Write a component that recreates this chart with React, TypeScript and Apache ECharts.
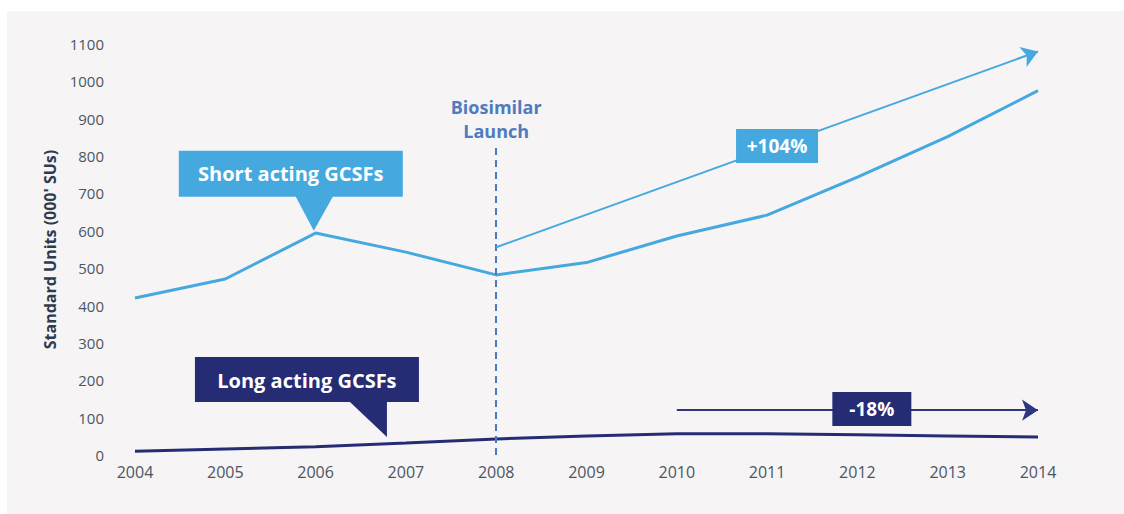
import React, { useEffect, useRef } from "react";
import * as echarts from "echarts";

const years = [2004, 2005, 2006, 2007, 2008, 2009, 2010, 2011, 2012, 2013, 2014];
const shortActing = [420, 471, 594, 543, 482, 515, 586, 642, 744, 852, 975];
const longActing = [10, 16, 22, 32, 43, 51, 57, 57, 54, 51, 48];

const launchYear = 2008;
const launchTop = 822;
const shortTrendStart = [2008, 556];
const shortTrendEnd = [2014, 1080];
const shortTrendLabel = "+104%";
const shortTrendLabelAt = [2011.11, 827];
const longTrendStart = [2010, 120];
const longTrendEnd = [2014, 120];
const longTrendLabel = "-18%";
const longTrendLabelAt = [2012.16, 123];
const shortCalloutTip = [2005.98, 600];
const longCalloutTip = [2006.79, 48];

const SHORT = "#45a9df";
const LONG = "#262c74";
const FONT = "'Open Sans', Lato, sans-serif";

export default function App() {
  const ref = useRef<HTMLDivElement>(null);
  useEffect(() => {
    if (!ref.current) return;
    const chart = echarts.init(ref.current, null, { renderer: "svg" });
    const sData = years.map((y, i) => [y, shortActing[i]]);
    const lData = years.map((y, i) => [y, longActing[i]]);
    const boxLabel = (text: string, size: number, offset?: number[]) => ({
      show: true,
      position: "inside",
      offset: offset || [0, 0],
      formatter: text,
      color: "#ffffff",
      fontSize: size,
      fontWeight: "bold",
      fontFamily: FONT,
    });
    chart.setOption({
      animation: false,
      textStyle: { fontFamily: FONT },
      graphic: [
        {
          type: "rect",
          z: -10,
          silent: true,
          shape: { x: 7, y: 11, width: 1117, height: 503 },
          style: { fill: "#f6f4f5" },
        },
      ],
      grid: { left: 135, right: 86, top: 44, bottom: 59 },
      xAxis: {
        type: "value",
        min: 2004,
        max: 2014,
        interval: 1,
        axisLine: { show: false },
        axisTick: { show: false },
        splitLine: { show: false },
        axisLabel: {
          margin: 9,
          color: "#4b5663",
          fontSize: 16,
          fontFamily: FONT,
          formatter: (v: number) => String(v),
        },
      },
      yAxis: {
        type: "value",
        min: 0,
        max: 1100,
        interval: 100,
        name: "Standard Units (000' SUs)",
        nameLocation: "middle",
        nameGap: 77,
        nameTextStyle: { color: "#2e3b4c", fontSize: 16, fontWeight: "bold", fontFamily: FONT },
        axisLine: { show: false },
        axisTick: { show: false },
        splitLine: { show: false },
        axisLabel: {
          margin: 31,
          color: "#4b5663",
          fontSize: 15,
          fontFamily: FONT,
          formatter: (v: number) => String(v),
        },
      },
      series: [
        {
          name: "Short acting GCSFs",
          type: "line",
          data: sData,
          symbol: "none",
          lineStyle: { color: SHORT, width: 3 },
          itemStyle: { color: SHORT },
          markLine: {
            silent: true,
            symbol: ["none", "none"],
            data: [
              [
                {
                  coord: [launchYear, 0],
                  symbol: "none",
                  lineStyle: { color: "#4a78bf", width: 2, type: [7, 5] },
                  label: {
                    show: true,
                    position: "end",
                    formatter: "Biosimilar\nLaunch",
                    color: "#4f7bbf",
                    fontSize: 18,
                    fontWeight: "bold",
                    lineHeight: 24,
                    distance: 5,
                    fontFamily: FONT,
                  },
                },
                { coord: [launchYear, launchTop], symbol: "none" },
              ],
              [
                { coord: shortTrendStart, symbol: "none", lineStyle: { color: SHORT, width: 2, type: "solid" }, label: { show: false } },
                { coord: shortTrendEnd, symbol: "arrow", symbolSize: 16 },
              ],
            ],
          },
          markPoint: {
            silent: true,
            data: [
              {
                coord: shortTrendLabelAt,
                symbol: "rect",
                symbolSize: [82, 34],
                itemStyle: { color: SHORT },
                label: boxLabel(shortTrendLabel, 19),
              },
              {
                coord: shortCalloutTip,
                symbol: "path://M0 0H224V46H154L135 80L117 46H0Z",
                symbolSize: [224, 80],
                symbolOffset: [-23, -40],
                itemStyle: { color: SHORT },
                label: boxLabel("Short acting GCSFs", 20, [0, -17]),
              },
            ],
          },
        },
        {
          name: "Long acting GCSFs",
          type: "line",
          data: lData,
          symbol: "none",
          lineStyle: { color: LONG, width: 3 },
          itemStyle: { color: LONG },
          markLine: {
            silent: true,
            symbol: ["none", "none"],
            label: { show: false },
            data: [
              [
                { coord: longTrendStart, symbol: "none", lineStyle: { color: "#2f3680", width: 2, type: "solid" } },
                { coord: longTrendEnd, symbol: "arrow", symbolSize: 16 },
              ],
            ],
          },
          markPoint: {
            silent: true,
            data: [
              {
                coord: longTrendLabelAt,
                symbol: "rect",
                symbolSize: [79, 34],
                itemStyle: { color: LONG },
                label: boxLabel(longTrendLabel, 19),
              },
              {
                coord: longCalloutTip,
                symbol: "path://M0 0H224V45H192V80L155 45H0Z",
                symbolSize: [224, 80],
                symbolOffset: [-80, -40],
                itemStyle: { color: LONG },
                label: boxLabel("Long acting GCSFs", 20, [0, -17]),
              },
            ],
          },
        },
      ],
    });
    return () => chart.dispose();
  }, []);
  return (
    <div
      ref={ref}
      style={{ position: "absolute", left: 0, top: 0, width: 1124, height: 514 }}
    />
  );
}
